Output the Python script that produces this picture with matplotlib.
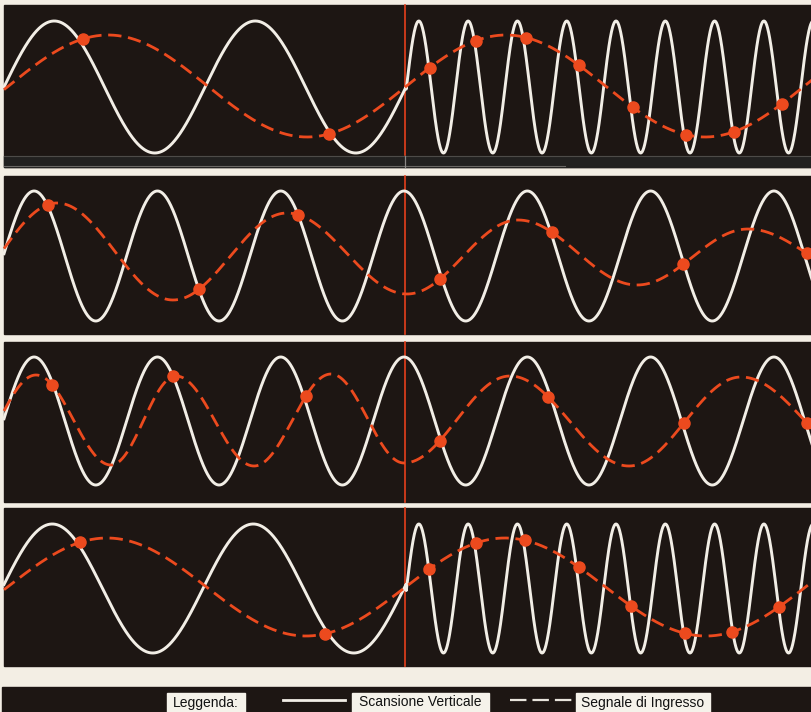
import numpy as np
import matplotlib.pyplot as plt
from matplotlib.patches import Rectangle

# colours
paper = "#f3eee4"
dark = "#1d1613"
white = "#f2eee6"
red = "#ec4a1e"

# panel extents (pixels, top / bottom)
panels_y = [(5, 167), (176, 334), (342, 502), (508, 666)]
centre_x = 405

# vertical scan (white) : centre, amplitude, segments (x0, x1, period, upward crossing)
white_centre = [87, 256, 421, 588.5]
white_amp = [66, 65, 64, 64.5]
white_segs = [
    [(4, 406, 201, 4), (406, 812, 49.3, 406.5)],
    [(4, 812, 123.3, 373.2)],
    [(4, 812, 123.3, 373.2)],
    [(4, 406, 201, 2), (406, 812, 49.3, 406.5)],
]

# input signal (red dashed) : extrema positions and heights
red_ext_x = [
    [-91, 108, 307, 506, 705, 904],
    [-58, 57, 173, 287, 407, 518, 637, 748, 863],
    [-38, 36, 111, 176, 254, 331, 404, 510, 629, 741, 870],
    [-92, 107, 306, 505, 706, 905],
]
red_ext_y = [
    [137, 35, 137, 35, 137, 35],
    [307, 203, 300, 213, 294, 220, 285, 229, 276],
    [466, 375, 465, 376, 466, 374, 463, 376, 466, 377, 466],
    [636, 538, 636, 538, 636, 538],
]

# sample points (where the scan meets the signal)
dots_x = [
    [83, 329, 430, 476, 526, 579, 633, 686, 734, 782],
    [48, 199, 298, 440, 552, 683, 807],
    [52, 173, 306, 440, 548, 684, 807],
    [80, 325, 429, 476, 525, 579, 631, 685, 732, 779],
]

legend_labels = ["Leggenda:", "Scansione Verticale", "Segnale di Ingresso"]


def white_wave(x, segs, yc, amp):
    y = np.full_like(x, np.nan)
    for x0, x1, per, xu in segs:
        m = (x >= x0) & (x <= x1)
        y[m] = yc - amp * np.sin(2 * np.pi * (x[m] - xu) / per)
    return y


def red_wave(x, ex, ey):
    ex = np.asarray(ex, float)
    ey = np.asarray(ey, float)
    i = np.clip(np.searchsorted(ex, x) - 1, 0, len(ex) - 2)
    t = (x - ex[i]) / (ex[i + 1] - ex[i])
    return ey[i] + (ey[i + 1] - ey[i]) * (1 - np.cos(np.pi * t)) / 2


fig = plt.figure(figsize=(8.12, 7.12), dpi=100, facecolor=paper)
ax = fig.add_axes([0, 0, 1, 1])
ax.set_xlim(0, 812)
ax.set_ylim(712, 0)
ax.axis("off")
ax.set_facecolor(paper)

xs = np.linspace(4, 812, 3000)

for k, (y0, y1) in enumerate(panels_y):
    bg = Rectangle((4, y0), 812 - 4, y1 - y0, color=dark, zorder=1)
    ax.add_patch(bg)

    yw = white_wave(xs, white_segs[k], white_centre[k], white_amp[k])
    ax.plot(xs, yw, color=white, lw=2.1, zorder=3, clip_path=bg)

    yr = red_wave(xs, red_ext_x[k], red_ext_y[k])
    ax.plot(xs, yr, color=red, lw=2.0, dashes=(4.8, 2.4), zorder=4, clip_path=bg)

    dx = np.array(dots_x[k], float)
    ax.plot(dx, red_wave(dx, red_ext_x[k], red_ext_y[k]), "o", color=red,
            ms=8, mec=red, zorder=5, clip_path=bg)

    ax.plot([centre_x, centre_x], [y0, y1], color="#e5401c", lw=1.2, zorder=2)

# grey strip under the first panel
ax.add_patch(Rectangle((4, 156), 808, 11, color="#222120", zorder=2.5))
ax.plot([4, 812], [156, 156], color="#4d4b48", lw=0.8, zorder=2.6)
ax.plot([4, 565], [165.5, 165.5], color="#6a6865", lw=0.8, zorder=2.6)
ax.plot([centre_x, centre_x], [156, 167], color="#8a8886", lw=0.9, zorder=2.7)

# legend bar
ax.add_patch(Rectangle((2, 687), 810, 25, color=dark, zorder=1))
boxes = [(167, 245), (352, 489), (576, 710)]
for (bx0, bx1), lab in zip(boxes, legend_labels):
    ax.add_patch(Rectangle((bx0, 693), bx1 - bx0, 19, color="#f5f2ea", zorder=2))
    ax.text((bx0 + bx1) / 2, 702.5, lab, ha="center", va="center", fontsize=10,
            color="#111111", family=["Liberation Sans Narrow", "Liberation Sans"], zorder=3)
ax.plot([283, 345], [700, 700], color=white, lw=2.0, zorder=3)
ax.plot([510, 572], [700, 700], color="#e8e4dc", lw=1.6, dashes=(7.4, 2.7), zorder=3)

fig.savefig("out.png", dpi=100, facecolor=paper)
